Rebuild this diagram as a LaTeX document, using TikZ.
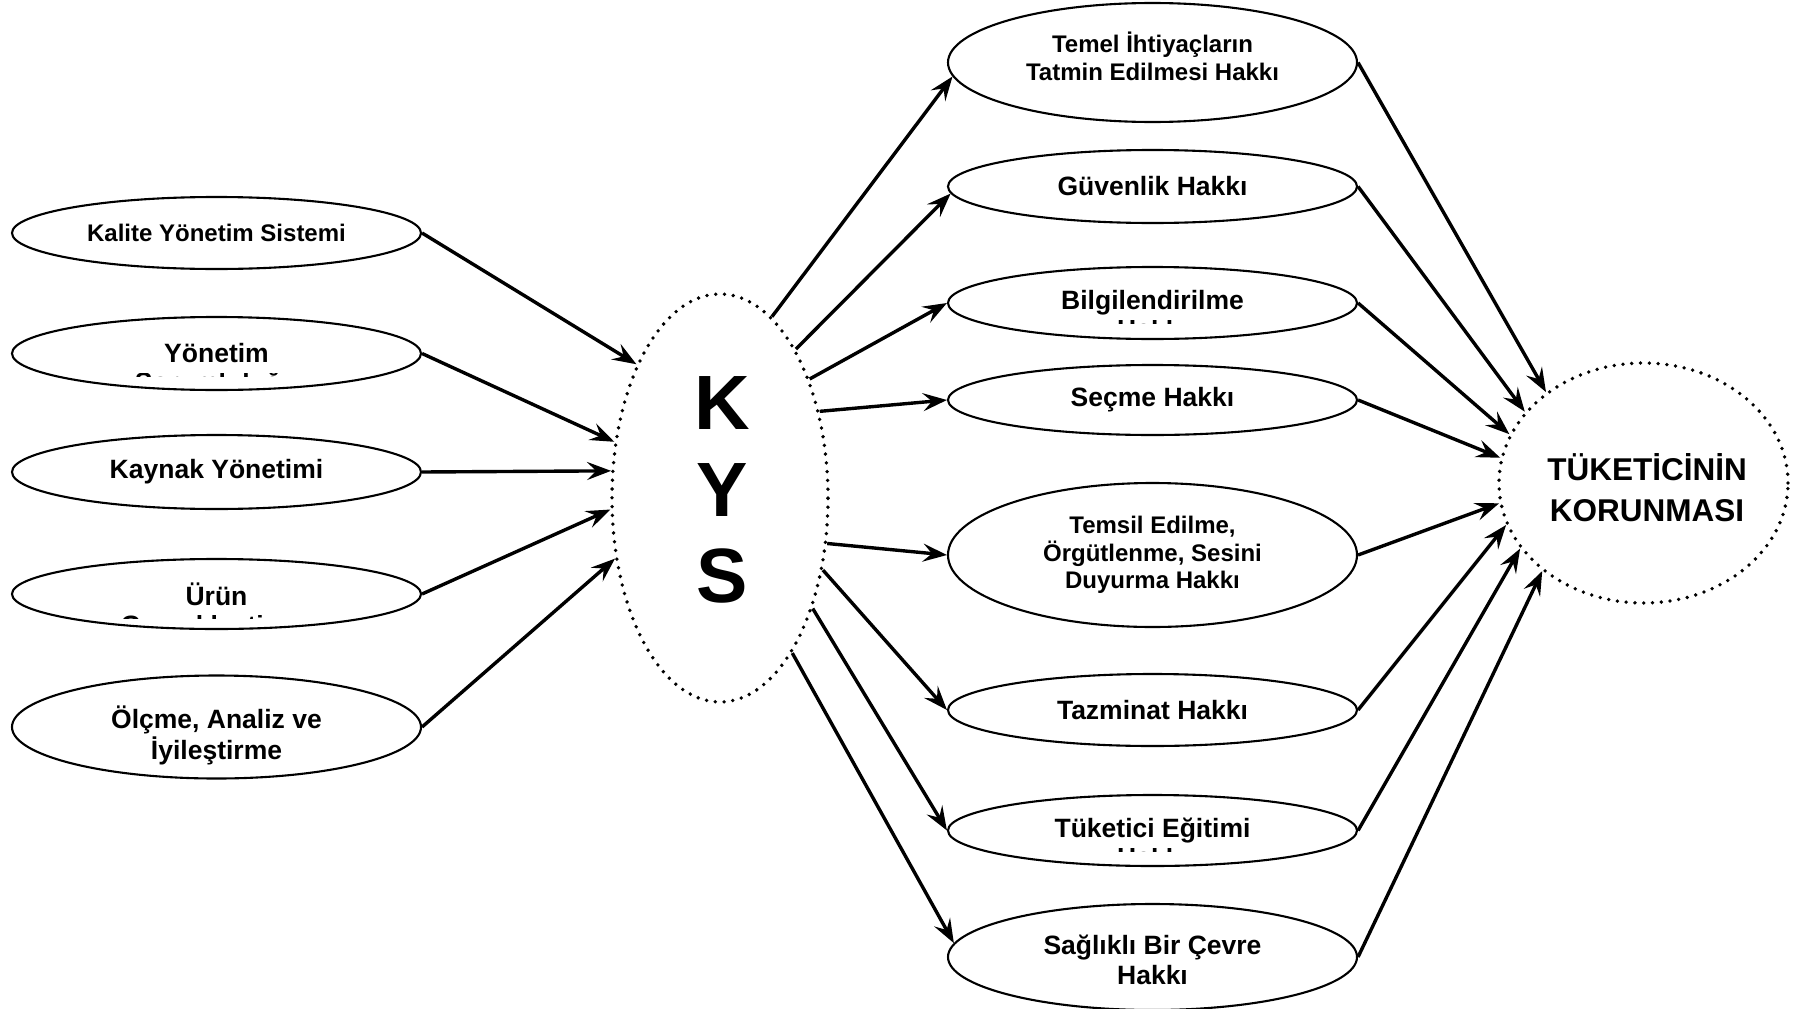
\documentclass[tikz,border=0pt]{standalone}
\usepackage{fontspec}
\setmainfont{Liberation Sans}
\usetikzlibrary{shapes.geometric,arrows.meta}
\begin{document}
\begin{tikzpicture}[x=1pt,y=-1pt,
  ell/.style={draw, line width=2.1pt, ellipse, inner sep=0pt, align=center, minimum width=409pt, font=\bfseries\fontsize{26.5}{30}\selectfont},
  small/.style={font=\bfseries\fontsize{24}{28.5}\selectfont},
  dotell/.style={draw, ellipse, line width=3.8pt, dash pattern=on 0pt off 8.8pt, line cap=round, inner sep=0pt},
  txt/.style={inner sep=0pt, align=center},
  arr/.style={line width=3.4pt, -{Stealth[length=24pt,width=18pt,inset=9pt]}},
  frag/.style={anchor=base, inner sep=0pt, font=\bfseries\fontsize{26.5}{30}\selectfont}
]
\useasboundingbox (0,0) rectangle (1796,1009);

% left nodes
\node[ell, small, minimum height=72pt] (kal) at (216.5,233) {Kalite Yönetim Sistemi};
\node[ell, minimum height=73pt] (yon) at (216.5,353.5) {Yönetim};
\node[ell, minimum height=74pt] (kay) at (216.5,472) {Kaynak Yönetimi};
\node[ell, minimum height=70pt] (urun) at (216.5,594) {Ürün};
\node[ell, minimum height=103pt] (olc) at (216.5,727) {};
\node[txt, font=\bfseries\fontsize{26.5}{31}\selectfont] (olctxt) at (216.5,735) {Ölçme, Analiz ve\\İyileştirme};

% right nodes
\node[ell, minimum height=119pt] (tem) at (1152.5,62.5) {};
\node[txt, font=\bfseries\fontsize{24}{28.5}\selectfont] (temtxt) at (1152.5,56.5) {Temel İhtiyaçların\\Tatmin Edilmesi Hakkı};
\node[ell, minimum height=73pt] (guv) at (1152.5,186.5) {Güvenlik Hakkı};
\node[ell, minimum height=72pt] (bil) at (1152.5,303) {Bilgilendirilme};
\node[ell, minimum height=70pt] (sec) at (1152.5,400) {Seçme Hakkı};
\node[ell, minimum height=144pt, font=\bfseries\fontsize{24}{27.5}\selectfont] (tms) at (1152.5,555) {Temsil Edilme,\\Örgütlenme, Sesini\\Duyurma Hakkı};
\node[ell, minimum height=72pt] (taz) at (1152.5,710) {Tazminat Hakkı};
\node[ell, minimum height=71pt] (tuk) at (1152.5,830.5) {Tüketici Eğitimi};
\node[ell, minimum height=106pt] (sag) at (1152.5,957) {};
\node[txt, font=\bfseries\fontsize{26.5}{30}\selectfont] (sagtxt) at (1152.5,960) {Sağlıklı Bir Çevre\\Hakkı};

% centre and goal
\node[dotell, minimum width=216pt, minimum height=408pt] (kys) at (720,498) {};
\node[txt, font=\bfseries\fontsize{77}{86.5}\selectfont] (kystxt) at (722,490) {K\\Y\\S};
\node[dotell, minimum width=289pt, minimum height=240pt] (tk) at (1643.5,483) {};
\node[txt, font=\bfseries\fontsize{31.5}{41}\selectfont] (tktxt) at (1647,488) {TÜKETİCİNİN\\KORUNMASI};

% clipped second lines
\begin{scope}
\clip ([xshift=-130pt,yshift=-10.5pt]yon.base) rectangle ([xshift=130pt,yshift=-13.5pt]yon.base);
\node[frag] (yonf) at ([yshift=-29pt]yon.base) {Sorumluluğu};
\end{scope}
\begin{scope}
\clip ([xshift=-130pt,yshift=-10.5pt]urun.base) rectangle ([xshift=130pt,yshift=-13.5pt]urun.base);
\node[frag] (urunf) at ([yshift=-29pt]urun.base) {Gerçekleştirme};
\end{scope}
\begin{scope}
\clip ([xshift=-130pt,yshift=-11pt]bil.base) rectangle ([xshift=130pt,yshift=-14pt]bil.base);
\node[frag] (bilf) at ([yshift=-29pt]bil.base) {Hakkı};
\end{scope}
\begin{scope}
\clip ([xshift=-130pt,yshift=-11pt]tuk.base) rectangle ([xshift=130pt,yshift=-14pt]tuk.base);
\node[frag] (tukf) at ([yshift=-29pt]tuk.base) {Hakkı};
\end{scope}

% left -> KYS
\draw[arr] (kal.east) -- (kys.122);
\draw[arr] (yon.east) -- (kys.152);
\draw[arr] (kay.east) -- (kys.166);
\draw[arr] (urun.east) -- (kys.186);
\draw[arr] (olc.east) -- (kys.210);

% KYS -> right
\draw[arr] (kys.74) -- (tem.184);
\draw[arr] (kys.63) -- (guv.182);
\draw[arr] (kys.53) -- (bil.west);
\draw[arr] (kys.41) -- (sec.west);
\draw[arr] (kys.337) -- (tms.west);
\draw[arr] (kys.325) -- (taz.west);
\draw[arr] (kys.310) -- (tuk.west);
\draw[arr] (kys.295) -- (sag.176);

% right -> goal
\draw[arr] (tem.east) -- (tk.137);
\draw[arr] (guv.east) -- (tk.149);
\draw[arr] (bil.east) -- (tk.160);
\draw[arr] (sec.east) -- (tk.170);
\draw[arr] (tms.east) -- (tk.188);
\draw[arr] (taz.east) -- (tk.197);
\draw[arr] (tuk.east) -- (tk.208);
\draw[arr] (sag.east) -- (tk.221);
\end{tikzpicture}
\end{document}
